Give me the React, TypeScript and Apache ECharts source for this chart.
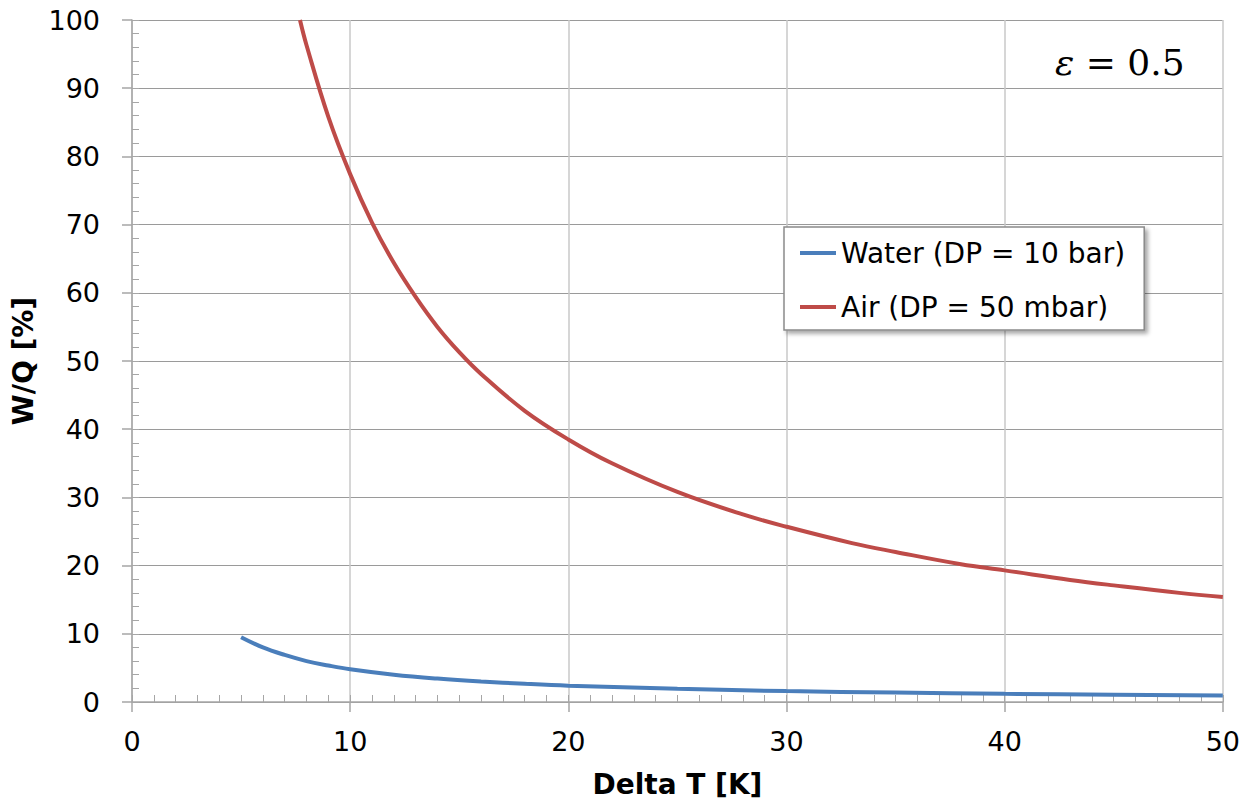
import React, { useEffect, useRef } from "react";
import * as echarts from "echarts";

const airX = [7.7, 8, 9, 10, 11, 12, 13, 14, 15, 16, 18, 20, 22, 25, 28, 30, 33, 35, 38, 40, 43, 45, 48, 50];
const airY = [100, 96.3, 85.8, 77.4, 70.3, 64.4, 59.4, 55.0, 51.3, 48.1, 42.7, 38.5, 35.0, 30.8, 27.5, 25.7, 23.3, 22.0, 20.2, 19.3, 17.9, 17.1, 16.0, 15.4];
const waterX = [5, 6, 7, 8, 9, 10, 12, 14, 16, 18, 20, 25, 30, 35, 40, 45, 50];
const waterY = [9.5, 8.0, 6.9, 6.0, 5.35, 4.8, 4.0, 3.43, 3.0, 2.67, 2.4, 1.93, 1.6, 1.38, 1.2, 1.07, 0.96];

const seriesNames = ["Water (DP = 10 bar)", "Air (DP = 50 mbar)"];
const xTitle = "Delta T [K]";
const yTitle = "W/Q [%]";

const FONT = "'DejaVu Sans', Verdana, sans-serif";

export default function App() {
  const ref = useRef<HTMLDivElement>(null);
  useEffect(() => {
    if (!ref.current) return;
    const chart = echarts.init(ref.current, undefined, { renderer: "svg" });
    const toPairs = (xs: number[], ys: number[]) => xs.map((x, i) => [x, ys[i]]);
    chart.setOption({
      animation: false,
      backgroundColor: "#ffffff",
      textStyle: { fontFamily: FONT },
      grid: { left: 132, right: 20, top: 20, bottom: 102, containLabel: false },
      xAxis: [
        {
          type: "value",
          min: 0,
          max: 50,
          interval: 10,
          position: "bottom",
          name: xTitle,
          nameLocation: "middle",
          nameGap: 68,
          nameTextStyle: { fontFamily: FONT, fontSize: 28, fontWeight: "bold", color: "#000" },
          axisLine: { show: true, lineStyle: { color: "#a6a6a6", width: 1.5 } },
          axisTick: { show: true, inside: false, length: 10, lineStyle: { color: "#a6a6a6", width: 1.5 } },
          axisLabel: { fontFamily: FONT, fontSize: 27, color: "#000", margin: 26 },
          splitLine: { show: true, lineStyle: { color: "#c8c8c8", width: 1.5 } },
        },
        {
          type: "value",
          min: 0,
          max: 50,
          interval: 1,
          position: "bottom",
          axisLine: { show: false },
          axisTick: { show: true, inside: true, length: 7, lineStyle: { color: "#a6a6a6", width: 1 } },
          axisLabel: { show: false },
          splitLine: { show: false },
        },
      ],
      yAxis: [
        {
          type: "value",
          min: 0,
          max: 100,
          interval: 10,
          position: "left",
          name: yTitle,
          nameLocation: "middle",
          nameGap: 87,
          nameTextStyle: { fontFamily: FONT, fontSize: 28, fontWeight: "bold", color: "#000" },
          axisLine: { show: true, lineStyle: { color: "#a6a6a6", width: 1.5 } },
          axisTick: { show: true, inside: false, length: 10, lineStyle: { color: "#a6a6a6", width: 1.5 } },
          axisLabel: { fontFamily: FONT, fontSize: 27, color: "#000", margin: 32 },
          splitLine: { show: true, lineStyle: { color: "#9a9a9a", width: 1.2 } },
        },
        {
          type: "value",
          min: 0,
          max: 100,
          interval: 2,
          position: "left",
          axisLine: { show: false },
          axisTick: { show: true, inside: true, length: 7, lineStyle: { color: "#a6a6a6", width: 1 } },
          axisLabel: { show: false },
          splitLine: { show: false },
        },
      ],
      legend: {
        show: true,
        orient: "vertical",
        left: 784,
        top: 227,
        padding: [11, 19, 8, 16],
        itemGap: 24,
        itemWidth: 36,
        itemHeight: 4,
        icon: "rect",
        backgroundColor: "#ffffff",
        borderColor: "#8a8a8a",
        borderWidth: 1.5,
        borderRadius: 0,
        shadowBlur: 4,
        shadowOffsetX: 3,
        shadowOffsetY: 3,
        shadowColor: "rgba(0,0,0,0.35)",
        textStyle: { fontFamily: FONT, fontSize: 28, color: "#000", lineHeight: 30 },
        data: seriesNames,
      },
      graphic: [
        {
          type: "text",
          x: 1055,
          y: 62,
          style: {
            text: "{e|ε} = 0.5",
            rich: {
              e: { fontFamily: "'DejaVu Serif', serif", fontSize: 36, fontStyle: "italic", fill: "#000" },
            },
            font: "36px 'DejaVu Serif', serif",
            fill: "#000",
            verticalAlign: "middle",
            align: "left",
          },
          silent: true,
        },
      ],
      series: [
        {
          name: seriesNames[0],
          type: "line",
          xAxisIndex: 0,
          yAxisIndex: 0,
          data: toPairs(waterX, waterY),
          smooth: 0.4,
          symbol: "none",
          lineStyle: { color: "#4a7ebb", width: 4 },
          itemStyle: { color: "#4a7ebb" },
          clip: true,
        },
        {
          name: seriesNames[1],
          type: "line",
          xAxisIndex: 0,
          yAxisIndex: 0,
          data: toPairs(airX, airY),
          smooth: 0.4,
          symbol: "none",
          lineStyle: { color: "#be4b48", width: 4 },
          itemStyle: { color: "#be4b48" },
          clip: true,
        },
      ],
    });
    return () => chart.dispose();
  }, []);
  return (
    <div
      ref={ref}
      style={{ position: "fixed", left: 0, top: 0, width: 1243, height: 804, background: "#fff" }}
    />
  );
}
